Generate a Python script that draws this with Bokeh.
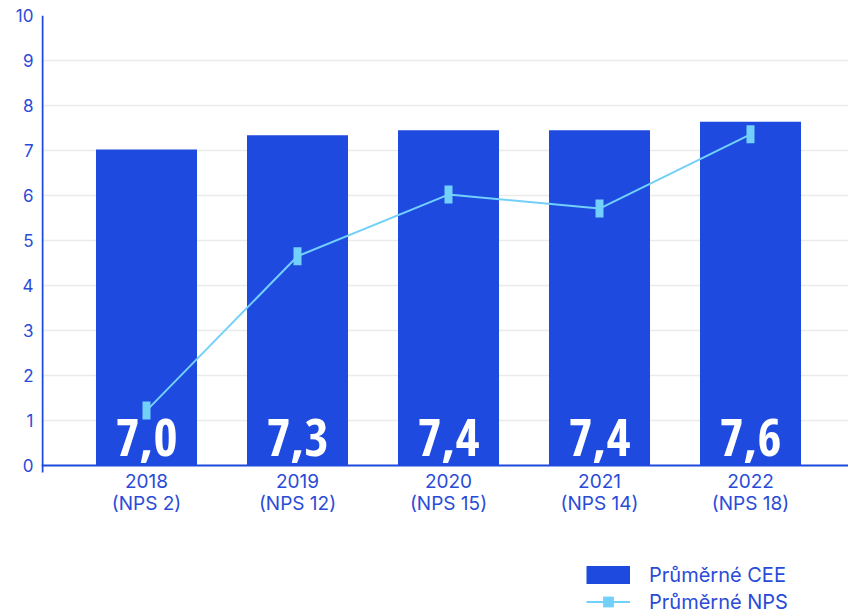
from bokeh.plotting import figure
from bokeh.models import Range1d, FixedTicker, Span, Legend, LegendItem
from bokeh.core.properties import value
from bokeh.embed import file_html
from bokeh.resources import INLINE

# ---- data ----
years = ["2018", "2019", "2020", "2021", "2022"]
nps_tags = ["(NPS 2)", "(NPS 12)", "(NPS 15)", "(NPS 14)", "(NPS 18)"]
cee_avg = [7.02, 7.34, 7.45, 7.45, 7.64]
cee_text = ["7,0", "7,3", "7,4", "7,4", "7,6"]
nps_avg = [1.22, 4.65, 6.02, 5.71, 7.36]
y_ticks = list(range(0, 11))

BLUE = "#1f4ae0"
TXT = "#2a4bd8"
LIGHT = "#72d0fb"
FONT = "Inter"

W, H = 848, 614
LEFT, TOP = 41, 15
PX_PER_UNIT = 45.0
STEP = 151.0
FIRST = 146.0

xs = list(range(len(years)))
x0 = (LEFT - FIRST) / STEP
x1 = (W - FIRST) / STEP
y1 = 10
y0 = y1 - (H - TOP) / PX_PER_UNIT
axis_x = (LEFT + 1 - FIRST) / STEP

p = figure(width=W, height=H, output_backend="svg", toolbar_location=None,
           x_range=Range1d(x0, x1), y_range=Range1d(y0, y1),
           min_border_left=LEFT, min_border_right=0, min_border_top=TOP,
           min_border_bottom=0)
p.outline_line_color = None
p.background_fill_color = "white"
p.border_fill_color = "white"

p.xaxis.visible = False
p.xgrid.grid_line_color = None
p.ygrid.grid_line_color = "#ebebeb"
p.ygrid.grid_line_width = 1.5

bars = p.vbar(x=xs, top=cee_avg, width=0.669, fill_color=BLUE, line_color=None)

p.text(x=xs, y=[0.62] * len(xs), text=cee_text, text_color="white",
       text_font=value("'Open Sans Condensed', 'DejaVu Sans Condensed', 'Liberation Sans Narrow', 'Roboto Condensed', Roboto"),
       text_font_style="bold",
       text_font_size="52px", text_align="center", text_baseline="middle")

nps_line = p.line(xs, nps_avg, line_color=LIGHT, line_width=2)
p.rect(xs, nps_avg, width=8, height=18, width_units="screen", height_units="screen",
       fill_color=LIGHT, line_color=None)

# axis lines
p.add_layout(Span(location=0, dimension="width", line_color=BLUE, line_width=2))
p.segment(x0=[axis_x], y0=[-7 / PX_PER_UNIT], x1=[axis_x], y1=[y1],
          line_color=BLUE, line_width=2)

# y axis labels
p.yaxis.ticker = FixedTicker(ticks=y_ticks)
p.yaxis.axis_line_color = None
p.yaxis.major_tick_line_color = None
p.yaxis.minor_tick_line_color = None
p.yaxis.major_tick_out = 0
p.yaxis.major_tick_in = 0
p.yaxis.major_label_text_color = TXT
p.yaxis.major_label_text_font = FONT
p.yaxis.major_label_text_font_size = "17px"
p.yaxis.major_label_standoff = 8

# x category labels (two lines)
p.text(x=xs, y=[-15 / PX_PER_UNIT] * len(xs), text=years, text_color=TXT,
       text_font=value(FONT), text_font_size="19px", text_align="center",
       text_baseline="middle")
p.text(x=xs, y=[-38 / PX_PER_UNIT] * len(xs), text=nps_tags, text_color=TXT,
       text_font=value(FONT), text_font_size="19px", text_align="center",
       text_baseline="middle")

# legend swatches: hidden renderers
l1 = p.line(x=xs[:1], y=cee_avg[:1], line_color=BLUE, line_width=18,
            line_cap="butt", visible=False)
l2 = p.line(x=xs[:1], y=nps_avg[:1], line_color=LIGHT, line_width=2, visible=False)
s2 = p.scatter(x=xs[:1], y=nps_avg[:1], marker="square", size=10, fill_color=LIGHT,
               line_color=None, visible=False)
legend = Legend(items=[LegendItem(label="Průměrné CEE", renderers=[l1]),
                       LegendItem(label="Průměrné NPS", renderers=[l2, s2])],
                location=(545, -1), orientation="vertical",
                glyph_width=44, glyph_height=27, label_height=27, spacing=0,
                label_standoff=19, padding=0, margin=0,
                border_line_color=None, background_fill_alpha=0,
                label_text_font=FONT, label_text_font_size="20px",
                label_text_color=TXT)
p.add_layout(legend)

open("out.html", "w").write(file_html(p, INLINE))
